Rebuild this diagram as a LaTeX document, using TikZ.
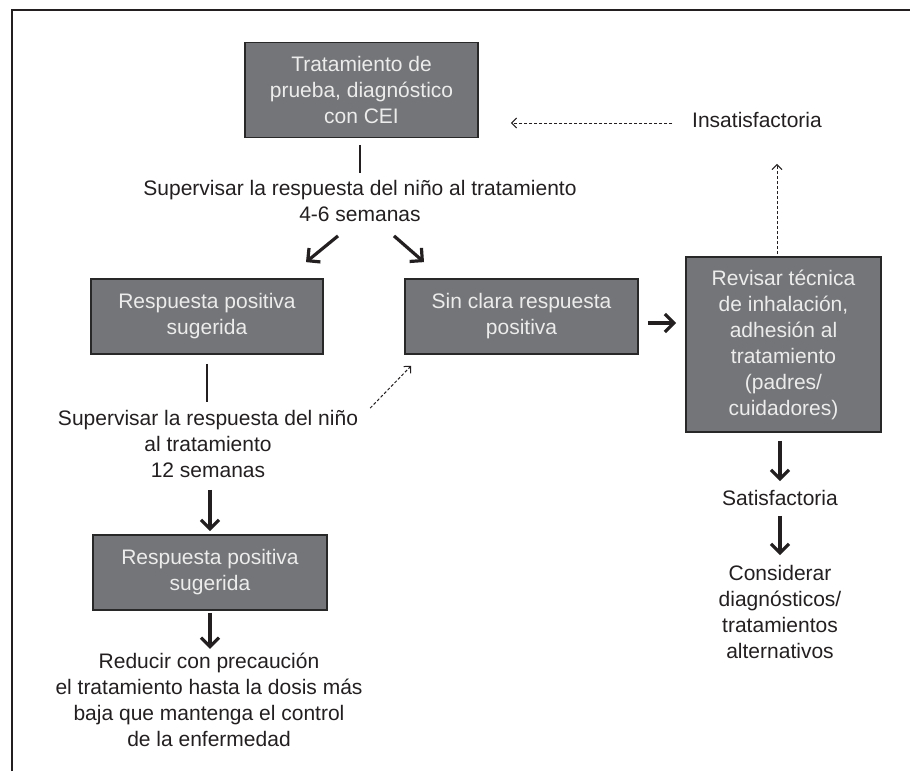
\documentclass[tikz,border=0pt]{standalone}
\usepackage{fontspec}
\setmainfont{Liberation Sans}
\usetikzlibrary{arrows.meta}

\begin{document}
\begin{tikzpicture}[x=1pt, y=-1pt,
    box/.style={draw=boxline, line width=1.8pt, fill=boxfill, text=boxtext, align=center, inner sep=0pt, font=\fontsize{21}{26}\selectfont},
    lbl/.style={text=ink, align=center, inner sep=0pt, font=\fontsize{21}{26}\selectfont},
    link/.style={draw=ink, line width=1.8pt},
    arr/.style={draw=ink, line width=3.2pt, -{Straight Barb[length=9pt,width=18pt]}},
    darr/.style={draw=ink, line width=1pt, dash pattern=on 3pt off 2pt, -{Straight Barb[length=5pt,width=10pt]}}]
% Define colors
\definecolor{ink}{RGB}{35,31,32}
\definecolor{boxfill}{RGB}{116,117,120}
\definecolor{boxline}{RGB}{40,40,40}
\definecolor{boxtext}{RGB}{236,236,236}

\useasboundingbox (0,0) rectangle (910,771);
\draw[draw=ink, line width=1.6pt] (12,771) -- (12,10) -- (910,10);

% Boxes
\node[box, minimum width=233pt, minimum height=95pt] (trat) at (361.5,90) {Tratamiento de\\prueba, diagnóstico\\con CEI};
\node[box, minimum width=232pt, minimum height=75pt] (posA) at (207,316.5) {Respuesta positiva\\sugerida};
\node[box, minimum width=233pt, minimum height=75pt] (sinC) at (521.5,316.5) {Sin clara respuesta\\positiva};
\node[box, minimum width=195pt, minimum height=175pt] (rev) at (783.5,344.5) {Revisar técnica\\de inhalación,\\adhesión al\\tratamiento\\(padres/\\cuidadores)};
\node[box, minimum width=234pt, minimum height=75pt] (posB) at (210,572.5) {Respuesta positiva\\sugerida};

% Labels
\node[lbl] (sup1) at (360,201) {Supervisar la respuesta del niño al tratamiento\\4-6 semanas};
\node[lbl] (insat) at (757,120) {Insatisfactoria};
\node[lbl] (sup2) at (208,444) {Supervisar la respuesta del niño\\al tratamiento\\12 semanas};
\node[lbl] (reduc) at (209,700) {Reducir con precaución\\el tratamiento hasta la dosis más\\baja que mantenga el control\\de la enfermedad};
\node[lbl] (satis) at (780,498) {Satisfactoria};
\node[lbl] (consid) at (780,612) {Considerar\\diagnósticos/\\tratamientos\\alternativos};

% Connectors
\draw[link, shorten <=6.5pt, shorten >=7pt] (trat.south -| sup1.north) -- (sup1.north);
\draw[arr] ([xshift=-22pt,yshift=-14pt]sup1.south) -- ([xshift=99pt,yshift=16pt]posA.north);
\draw[arr] ([xshift=34pt,yshift=-14pt]sup1.south) -- ([xshift=-97.5pt,yshift=16pt]sinC.north);
\draw[arr, shorten <=9pt, shorten >=9pt] ([yshift=-6.5pt]sinC.east) -- ([yshift=-6.5pt]sinC.east -| rev.west);
\draw[darr, shorten <=2pt, shorten >=36pt] ([xshift=-6.5pt]rev.north) -- ([xshift=-6.5pt]rev.north |- insat.south);
\draw[darr, shorten <=20pt, shorten >=32pt] ([yshift=-3pt]insat.west) -- ([yshift=-3pt]insat.west -| trat.east);
\draw[link, shorten <=9pt, shorten >=8pt] (posA.south) -- (posA.south |- sup2.north);
\draw[darr] ([xshift=12pt,yshift=2pt]sup2.north east) -- ([xshift=7pt,yshift=-11pt]sinC.south west);
\draw[arr, shorten <=12pt, shorten >=3pt] (posB.north |- sup2.south) -- (posB.north);
\draw[arr, shorten <=2pt, shorten >=4pt] (posB.south) -- (posB.south |- reduc.north);
\draw[arr, shorten <=8pt, shorten >=9pt] (satis.north |- rev.south) -- (satis.north);
\draw[arr, shorten <=10pt, shorten >=10pt] (satis.south) -- (consid.north);
\end{tikzpicture}
\end{document}
